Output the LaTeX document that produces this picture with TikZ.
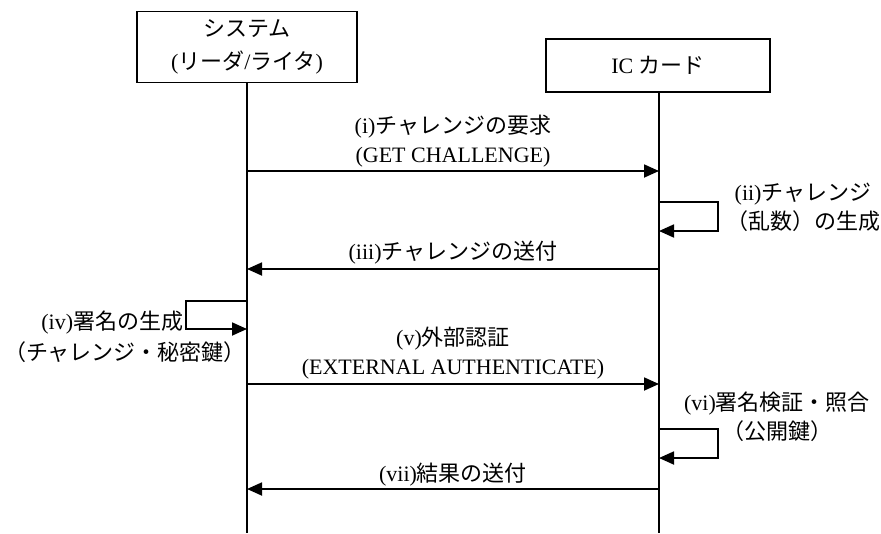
\documentclass[tikz,border=0pt]{standalone}
\usepackage{fontspec}
\setmainfont{Liberation Serif}
\newfontfamily\cjkfont{Noto Sans CJK JP}
\newcommand{\J}[1]{{\cjkfont #1}}
\usetikzlibrary{arrows.meta}
\begin{document}
\begin{tikzpicture}[x=1pt,y=-1pt,
  line width=1.8pt,
  box/.style={draw, line width=1.8pt, align=center, inner sep=0pt,
    font=\fontsize{22}{33}\selectfont},
  msg/.style={-{Triangle[length=15pt,width=13pt]}},
  lbl/.style={align=center, inner sep=0pt, font=\fontsize{22}{29}\selectfont}]
\useasboundingbox (0,0) rectangle (881,533);

% participants
\node[box, minimum width=220pt, minimum height=71pt] (sys) at (247,47)
  {\J{システム}\\(\J{リーダ}/\J{ライタ})};
\node[box, minimum width=224pt, minimum height=53pt] (ic) at (658,65.5)
  {IC \J{カード}};

% lifelines
\coordinate (sysEnd) at (247,533);
\coordinate (icEnd) at (659,533);
\draw (sys.south) -- (sysEnd);
\draw (ic.south -| icEnd) -- (icEnd);

% (i)
\coordinate (s1) at (247,171);
\coordinate (c1) at (659,171);
\draw[msg] (s1) -- (c1);
\node[lbl] (t1) at (453,141) {(i)\J{チャレンジの要求}\\(GET CHALLENGE)};

% (ii)
\coordinate (c2a) at (659,202);
\coordinate (c2b) at (659,231);
\draw[msg] (c2a) -- ++(59,0) |- (c2b);
\node[lbl] (t2) at (803,207) {(ii)\J{チャレンジ}\\\J{（乱数）の生成}};

% (iii)
\coordinate (c3) at (659,269);
\coordinate (s3) at (247,269);
\draw[msg] (c3) -- (s3);
\node[lbl] (t3) at (453,253) {(iii)\J{チャレンジの送付}};

% (iv)
\coordinate (s4a) at (247,301);
\coordinate (s4b) at (247,329);
\draw[msg] (s4a) -- ++(-61,0) |- (s4b);
\node[lbl, anchor=east] (t4a) at (184,323) {(iv)\J{署名の生成}};
\node[lbl] (t4b) at (125,352) {\J{（チャレンジ・秘密鍵）}};

% (v)
\coordinate (s5) at (247,384);
\coordinate (c5) at (659,384);
\draw[msg] (s5) -- (c5);
\node[lbl] (t5) at (453,353) {(v)\J{外部認証}\\(EXTERNAL AUTHENTICATE)};

% (vi)
\coordinate (c6a) at (659,429);
\coordinate (c6b) at (659,458);
\draw[msg] (c6a) -- ++(59,0) |- (c6b);
\node[lbl] (t6) at (777,417) {(vi)\J{署名検証・照合}\\\J{（公開鍵）}};

% (vii)
\coordinate (c7) at (659,489);
\coordinate (s7) at (247,489);
\draw[msg] (c7) -- (s7);
\node[lbl] (t7) at (453,475) {(vii)\J{結果の送付}};
\end{tikzpicture}
\end{document}
